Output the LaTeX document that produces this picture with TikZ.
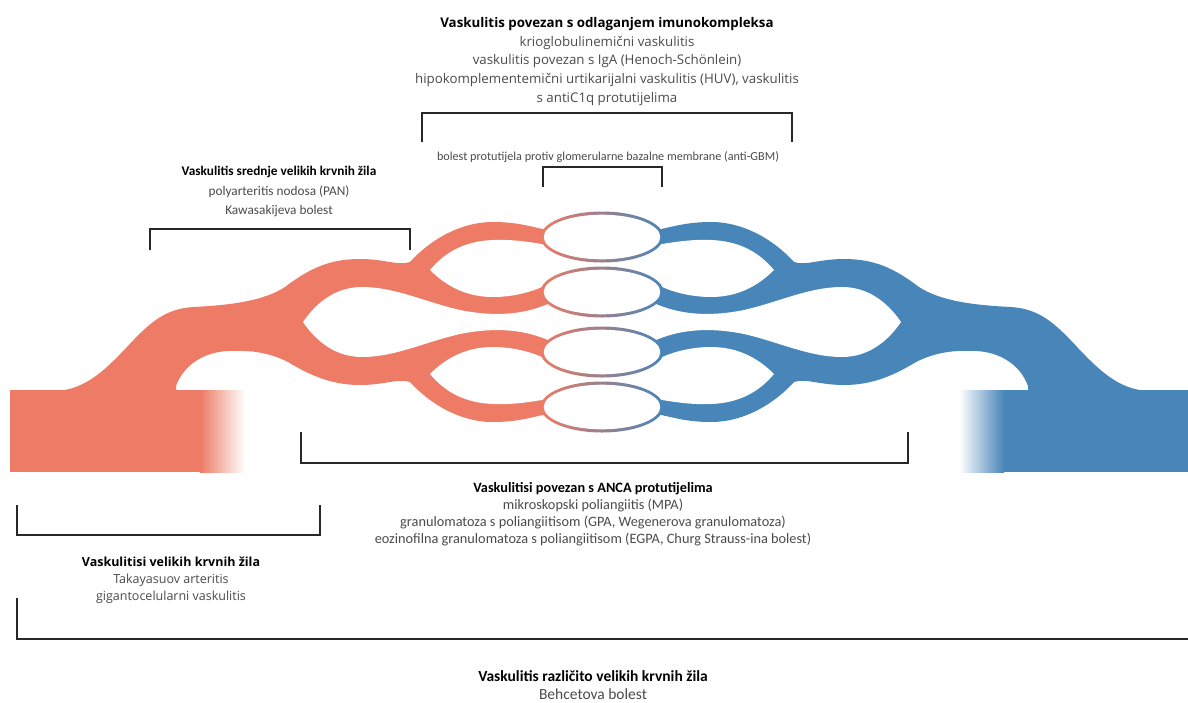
\documentclass[tikz,border=0pt]{standalone}
\usepackage{fontspec}
\setmainfont{Carlito}
\newfontfamily\widefont{Open Sans}
\definecolor{vred}{RGB}{237,123,101}
\definecolor{vblue}{RGB}{72,133,185}
\definecolor{vmid}{RGB}{150,122,160}
\definecolor{ink}{RGB}{40,40,40}
\definecolor{txt}{RGB}{75,75,75}
\newcommand{\vesselhalf}[1]{%
  \fill[#1] (55,391) .. controls (85,390) and (105,370) .. (126,348)
    .. controls (150,322) and (165,309) .. (193,307)
    .. controls (235,305) and (265,300) .. (285,287)
    .. controls (310,268) and (330,259) .. (360,259)
    .. controls (385,259) and (398,266) .. (410,262)
    .. controls (430,240) and (460,222) .. (493,222)
    .. controls (520,222) and (535,228) .. (548,230)
    -- (548,414)
    .. controls (535,416) and (520,422) .. (493,422)
    .. controls (460,422) and (430,404) .. (410,382)
    .. controls (398,378) and (385,385) .. (360,385)
    .. controls (330,385) and (308,374) .. (288,362)
    .. controls (268,352) and (250,350) .. (228,351)
    .. controls (205,352) and (184,364) .. (176,386)
    -- (176,395) -- (55,395) -- cycle;
  % hole between the two level-1 branches
  \fill[white] (303,322) .. controls (318,300) and (338,287) .. (362,287)
    .. controls (395,287) and (425,302) .. (460,310)
    .. controls (490,316) and (520,316) .. (548,304)
    -- (552,304) -- (552,340) -- (548,340)
    .. controls (520,328) and (490,328) .. (460,334)
    .. controls (425,342) and (395,357) .. (362,357)
    .. controls (338,357) and (318,344) .. (303,322) -- cycle;
  % hole of the upper pair
  \fill[white] (430,270) .. controls (445,252) and (465,241) .. (493,240)
    .. controls (515,239) and (535,243) .. (548,245)
    -- (552,245) -- (552,284) -- (548,284)
    .. controls (535,291) and (515,297) .. (493,297)
    .. controls (465,297) and (445,285) .. (430,270) -- cycle;
  % hole of the lower pair
  \fill[white] (430,374) .. controls (445,392) and (465,403) .. (493,404)
    .. controls (515,405) and (535,401) .. (548,399)
    -- (552,399) -- (552,360) -- (548,360)
    .. controls (535,353) and (515,347) .. (493,347)
    .. controls (465,347) and (445,359) .. (430,374) -- cycle;
}
\newcommand{\capillary}[1]{%
  \shade[left color=vred, middle color=vmid, right color=vblue] (602,#1) ellipse [x radius=61.5, y radius=25.5];
  \fill[white] (602,#1) ellipse [x radius=58.3, y radius=22.3];
}
\begin{document}
\begin{tikzpicture}[x=1pt, y=-1pt,
  bracket/.style={draw=ink, line width=2.2pt},
  lbl/.style={inner sep=0pt, align=center, text=txt, anchor=north}]
\useasboundingbox (0,0) rectangle (1188,702);
\fill[white] (0,0) rectangle (1188,702);

% blocks (large vessels) with faded inner ends
\fill[vred] (10,390) rectangle (200.5,472);
\shade[left color=vred, right color=white] (200,390) rectangle (245,472);
\fill[vblue] (1003.5,390) rectangle (1190,472);
\shade[left color=white, right color=vblue] (959,390) rectangle (1004,472);

% vessel trees
\vesselhalf{vred}
\begin{scope}[xshift=1204pt, xscale=-1]
  \vesselhalf{vblue}
\end{scope}
\capillary{237}
\capillary{292}
\capillary{352}
\capillary{407}

% brackets
\draw[bracket] (422,142) -- (422,113) -- (792,113) -- (792,142);
\draw[bracket] (543,187) -- (543,167) -- (662,167) -- (662,187);
\draw[bracket] (150,250) -- (150,229) -- (410,229) -- (410,250);
\draw[bracket] (301,432) -- (301,463) -- (908,463) -- (908,432);
\draw[bracket] (17,505) -- (17,535) -- (320,535) -- (320,505);
\draw[bracket] (17,598) -- (17,639) -- (1190,639);

% labels
\node[lbl, font=\widefont\fontsize{13.3}{18.75}\selectfont] (immune) at (607,17)
  {\textbf{\color{black}Vaskulitis povezan s odlaganjem imunokompleksa}\\
   krioglobulinemični vaskulitis\\
   vaskulitis povezan s IgA (Henoch-Schönlein)\\
   hipokomplementemični urtikarijalni vaskulitis (HUV), vaskulitis\\
   s antiC1q protutijelima};
\node[inner sep=0pt, text=txt, font=\fontsize{12.2}{14}\selectfont] (gbm) at (608,157)
  {bolest protutijela protiv glomerularne bazalne membrane (anti-GBM)};
\node[lbl, font=\fontsize{13.3}{19.5}\selectfont] (medium) at (279,166)
  {\textbf{\color{black}Vaskulitis srednje velikih krvnih žila}\\
   polyarteritis nodosa (PAN)\\
   Kawasakijeva bolest};
\node[lbl, font=\fontsize{14.3}{17}\selectfont] (anca) at (593,482)
  {\textbf{\color{black}Vaskulitisi povezan s ANCA protutijelima}\\
   mikroskopski poliangiitis (MPA)\\
   granulomatoza s poliangiitisom (GPA, Wegenerova granulomatoza)\\
   eozinofilna granulomatoza s poliangiitisom (EGPA, Churg Strauss-ina bolest)};
\node[lbl, font=\widefont\fontsize{12.5}{17}\selectfont] (large) at (171,557)
  {\textbf{\color{black}Vaskulitisi velikih krvnih žila}\\
   Takayasuov arteritis\\
   gigantocelularni vaskulitis};
\node[lbl, font=\fontsize{15.5}{18.5}\selectfont] (variable) at (593,670)
  {\textbf{\color{black}Vaskulitis različito velikih krvnih žila}\\
   Behcetova bolest};
\end{tikzpicture}
\end{document}
